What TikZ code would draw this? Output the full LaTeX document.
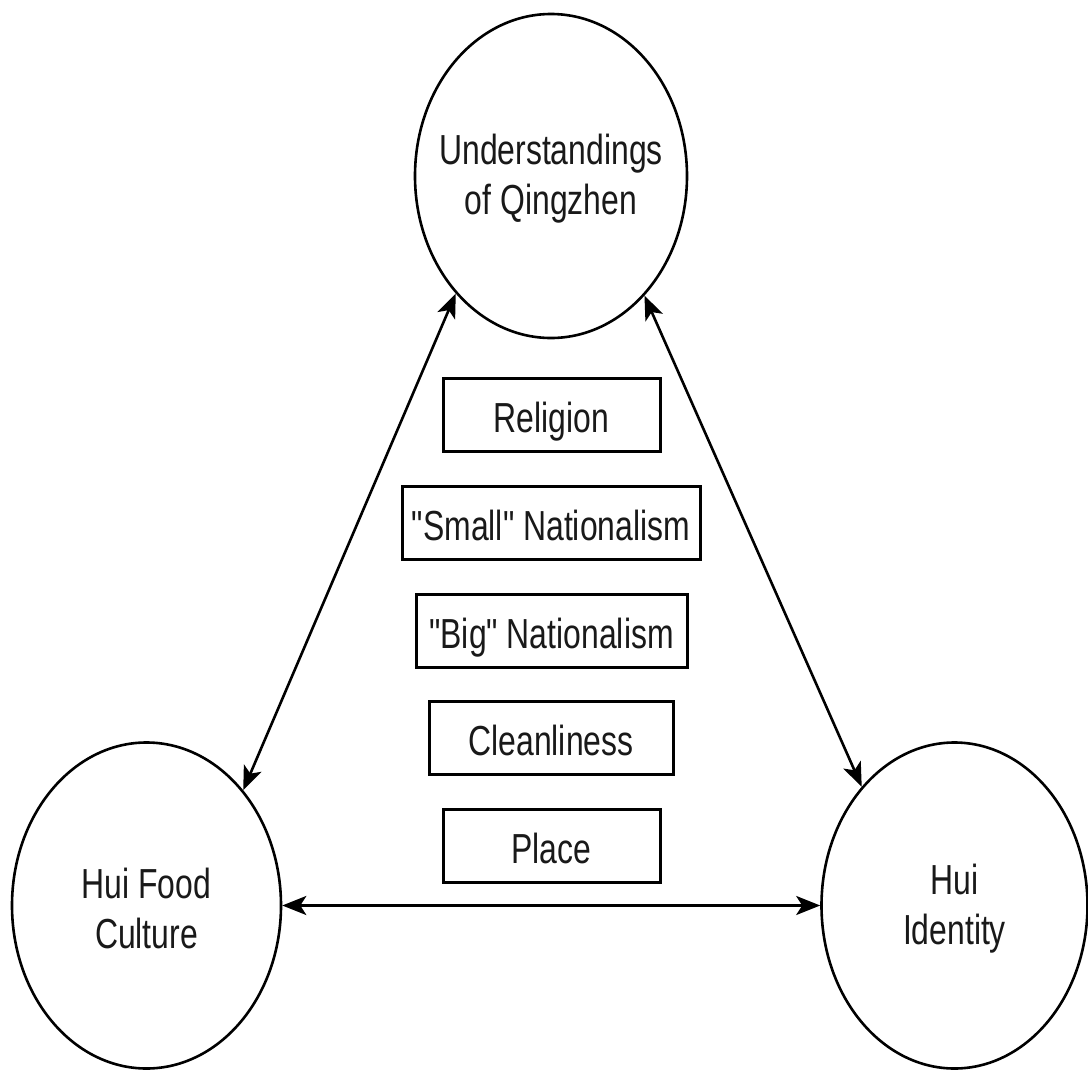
\documentclass[tikz,border=0pt]{standalone}
\usepackage{fontspec}
\setmainfont{Liberation Sans}[FakeStretch=0.76,Ligatures=TeXOff]
\usetikzlibrary{shapes.geometric,arrows.meta}
\begin{document}
\begin{tikzpicture}[x=1pt,y=-1pt,
  bigtext/.style={align=center,inner sep=0pt,text=black!90,yshift=-3pt,font=\fontsize{42}{50}\selectfont},
  oval/.style={draw,line width=2.6pt,ellipse,inner sep=0pt},
  factor/.style={draw,line width=3pt,rectangle,inner sep=0pt,minimum height=73pt,
    text=black!90,text depth=0pt,text height=36pt,font=\fontsize{42}{50}\selectfont},
  link/.style={line width=2.6pt,{Stealth[length=24pt,width=19pt,inset=6pt]}-{Stealth[length=24pt,width=19pt,inset=6pt]}}]
\useasboundingbox[fill=white] (0,0) rectangle (1088,1071);
\node[oval,minimum width=272pt,minimum height=324pt,
  label={[bigtext]center:Understandings\\of Qingzhen}] (top) at (551,176) {};
\node[oval,minimum width=269pt,minimum height=326pt,
  label={[bigtext]center:Hui Food\\Culture}] (food) at (146.5,905.5) {};
\node[oval,minimum width=266pt,minimum height=326pt,
  label={[bigtext]center:Hui\\Identity}] (hui) at (954.5,905.5) {};
\node[factor,minimum width=217pt] (rel) at (551.5,414.5) {Religion};
\node[factor,minimum width=298pt] (small) at (551,522.5) {"Small" Nationalism};
\node[factor,minimum width=271pt] (big) at (551.5,630.5) {"Big" Nationalism};
\node[factor,minimum width=244pt] (clean) at (551,737.5) {Cleanliness};
\node[factor,minimum width=217pt] (place) at (551.5,845.5) {Place};
\draw[link] (top.231.8) -- (food.50.9);
\draw[link] (top.308.2) -- (hui.128.8);
\draw[link] (food.east) -- (hui.west);
\end{tikzpicture}
\end{document}
